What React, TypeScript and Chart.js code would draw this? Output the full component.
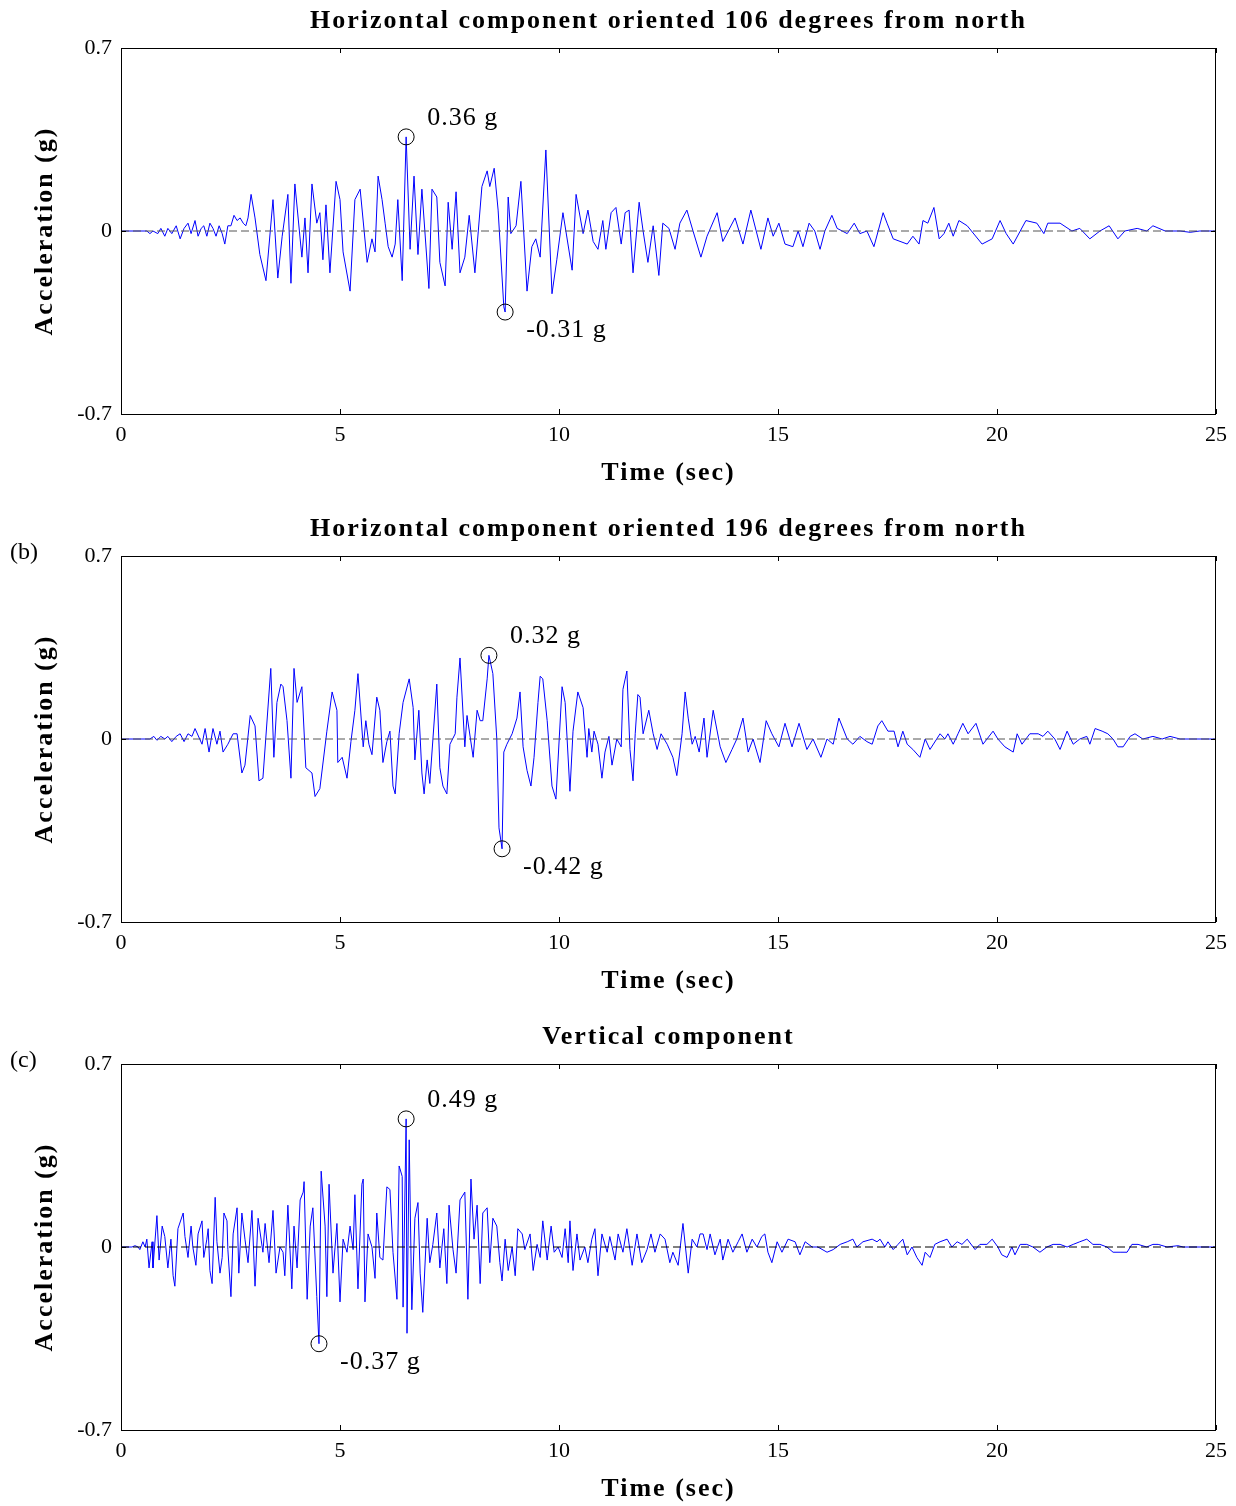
import React, { useEffect, useRef } from 'react';
import { Chart, registerables } from 'chart.js';

Chart.register(...registerables);

// ---------- axis / text data ----------
const X_MIN = 0;
const X_MAX = 25;
const X_STEP = 5;
const Y_TICKS = [-0.7, 0, 0.7];
const Y_TICK_LABELS = ['-0.7', '0', '0.7'];
const TITLES = [
  'Horizontal component oriented 106 degrees from north',
  'Horizontal component oriented 196 degrees from north',
  'Vertical component',
];
const TAGS = ['', '(b)', '(c)'];
const X_LABEL = 'Time (sec)';
const Y_LABEL = 'Acceleration (g)';

// ---------- series: [time (s), acceleration (g)] ----------
const h106: number[][] = [
  [0, 0], [0.59, 0], [0.66, -0.01], [0.73, 0], [0.84, -0.01], [0.91, 0.01], [1.0, -0.02], [1.07, 0.01], [1.16, -0.01], [1.26, 0.02],
  [1.35, -0.03], [1.44, 0.01], [1.53, 0.03], [1.6, -0.01], [1.69, 0.04], [1.76, -0.02], [1.83, 0.01], [1.89, 0.02], [1.96, -0.02], [2.03, 0.03],
  [2.1, 0.01], [2.17, -0.02], [2.24, 0.02], [2.31, -0.01], [2.37, -0.05], [2.44, 0.02], [2.51, 0.02], [2.58, 0.06], [2.65, 0.04], [2.72, 0.05],
  [2.79, 0.03], [2.85, 0.02], [2.9, 0.05], [2.97, 0.14], [3.06, 0.05], [3.17, -0.09], [3.31, -0.19], [3.47, 0.12], [3.58, -0.18], [3.68, -0.02],
  [3.81, 0.14], [3.88, -0.2], [3.97, 0.18], [4.13, -0.1], [4.2, 0.05], [4.27, -0.16], [4.36, 0.18], [4.47, 0.03], [4.54, 0.07], [4.61, -0.11],
  [4.68, 0.1], [4.77, -0.16], [4.91, 0.19], [5.0, 0.12], [5.07, -0.08], [5.23, -0.23], [5.34, 0.12], [5.46, 0.16], [5.62, -0.12], [5.73, -0.03],
  [5.8, -0.08], [5.87, 0.21], [5.96, 0.12], [6.03, 0.03], [6.1, -0.06], [6.19, -0.1], [6.26, -0.05], [6.32, 0.12], [6.42, -0.19], [6.51, 0.36],
  [6.6, -0.07], [6.69, 0.21], [6.78, -0.09], [6.87, 0.16], [7.03, -0.22], [7.1, 0.16], [7.21, 0.13], [7.28, -0.12], [7.4, -0.21], [7.47, 0.11],
  [7.56, -0.07], [7.65, 0.15], [7.74, -0.16], [7.85, -0.1], [7.95, 0.06], [8.08, -0.16], [8.24, 0.17], [8.36, 0.23], [8.42, 0.17], [8.52, 0.24],
  [8.61, 0.08], [8.74, -0.29], [8.77, -0.31], [8.84, 0.13], [8.9, -0.01], [9.02, 0.02], [9.13, 0.19], [9.27, -0.23], [9.38, -0.06], [9.47, -0.03],
  [9.57, -0.1], [9.7, 0.31], [9.84, -0.24], [9.95, -0.11], [10.09, 0.07], [10.3, -0.15], [10.39, 0.14], [10.55, -0.01], [10.66, 0.08], [10.78, -0.04],
  [10.89, -0.07], [11.0, 0.04], [11.07, -0.07], [11.19, 0.07], [11.3, 0.09], [11.42, -0.05], [11.51, 0.07], [11.6, 0.08], [11.69, -0.16], [11.83, 0.11],
  [11.92, 0.0], [12.03, -0.12], [12.15, 0.02], [12.28, -0.17], [12.37, 0.03], [12.51, 0.01], [12.65, -0.07], [12.76, 0.03], [12.92, 0.08], [13.06, 0.0],
  [13.24, -0.1], [13.38, -0.02], [13.61, 0.07], [13.74, -0.04], [14.02, 0.05], [14.2, -0.05], [14.38, 0.08], [14.61, -0.07], [14.77, 0.05], [14.89, -0.02],
  [15.02, 0.03], [15.16, -0.05], [15.34, -0.06], [15.46, 0.0], [15.57, -0.06], [15.71, 0.03], [15.84, 0.0], [15.96, -0.07], [16.07, 0.0], [16.23, 0.06],
  [16.35, 0.01], [16.58, -0.01], [16.74, 0.03], [16.87, -0.01], [17.03, 0.0], [17.19, -0.06], [17.4, 0.07], [17.49, 0.03], [17.63, -0.03], [17.95, -0.05],
  [18.08, -0.02], [18.22, -0.05], [18.31, 0.04], [18.42, 0.03], [18.56, 0.09], [18.68, -0.03], [18.79, -0.01], [18.9, 0.03], [19.0, -0.02], [19.13, 0.04],
  [19.32, 0.02], [19.66, -0.05], [19.89, -0.03], [20.07, 0.04], [20.21, -0.01], [20.37, -0.05], [20.66, 0.04], [20.91, 0.03], [21.07, -0.01], [21.16, 0.03],
  [21.44, 0.03], [21.71, 0.0], [21.89, 0.01], [22.12, -0.03], [22.35, 0.0], [22.56, 0.02], [22.76, -0.03], [22.92, 0.0], [23.2, 0.01], [23.42, 0.0],
  [23.56, 0.02], [23.84, 0.0], [24.18, 0.0], [24.41, -0.005], [24.63, 0.0], [25.0, 0.0],
];

const h196: number[][] = [
  [0, 0], [0.66, 0], [0.75, 0.01], [0.82, -0.005], [0.91, 0.01], [1.0, 0], [1.07, 0.01], [1.16, -0.01], [1.26, 0.01], [1.35, 0.02],
  [1.44, -0.01], [1.53, 0.02], [1.62, 0.01], [1.69, 0.04], [1.85, -0.02], [1.92, 0.04], [2.01, -0.05], [2.1, 0.04], [2.19, -0.02], [2.26, 0.03],
  [2.33, -0.05], [2.44, -0.02], [2.56, 0.02], [2.65, 0.02], [2.76, -0.13], [2.83, -0.1], [2.95, 0.09], [3.06, 0.05], [3.15, -0.16], [3.24, -0.15],
  [3.36, 0.13], [3.42, 0.27], [3.49, -0.07], [3.56, 0.14], [3.65, 0.21], [3.7, 0.2], [3.79, 0.07], [3.88, -0.15], [3.95, 0.27], [4.02, 0.14],
  [4.13, 0.2], [4.22, -0.11], [4.36, -0.13], [4.43, -0.22], [4.54, -0.19], [4.7, 0.03], [4.82, 0.18], [4.93, 0.11], [4.95, -0.09], [5.05, -0.07],
  [5.16, -0.15], [5.25, -0.01], [5.34, 0.11], [5.41, 0.25], [5.53, -0.03], [5.59, 0.07], [5.66, -0.02], [5.73, -0.06], [5.84, 0.16], [5.91, 0.11],
  [5.98, -0.09], [6.07, -0.01], [6.14, 0.03], [6.21, -0.18], [6.26, -0.21], [6.35, 0.02], [6.44, 0.14], [6.58, 0.23], [6.67, 0.12], [6.71, -0.08],
  [6.8, 0.11], [6.87, -0.13], [6.92, -0.21], [6.99, -0.08], [7.05, -0.17], [7.21, 0.21], [7.28, -0.11], [7.35, -0.18], [7.44, -0.21], [7.51, -0.02],
  [7.63, 0.02], [7.67, 0.16], [7.74, 0.31], [7.85, -0.03], [7.9, 0.09], [8.04, -0.07], [8.13, 0.11], [8.2, 0.07], [8.26, 0.07], [8.36, 0.23],
  [8.4, 0.32], [8.49, 0.25], [8.58, 0.0], [8.63, -0.34], [8.7, -0.42], [8.74, -0.05], [8.81, -0.02], [8.93, 0.02], [9.04, 0.08], [9.11, 0.18],
  [9.18, -0.03], [9.27, -0.12], [9.36, -0.18], [9.43, -0.07], [9.52, 0.14], [9.57, 0.24], [9.63, 0.23], [9.73, 0.07], [9.84, -0.18], [9.93, -0.23],
  [10.07, 0.2], [10.14, 0.14], [10.25, -0.2], [10.32, 0.03], [10.43, 0.18], [10.55, 0.12], [10.64, -0.07], [10.68, 0.04], [10.75, -0.05], [10.8, 0.03],
  [10.89, -0.02], [10.98, -0.15], [11.05, -0.05], [11.14, 0.01], [11.21, -0.1], [11.32, 0.0], [11.42, -0.03], [11.46, 0.19], [11.55, 0.26], [11.62, -0.04],
  [11.69, -0.16], [11.74, 0.02], [11.8, 0.17], [11.85, 0.16], [11.92, 0.02], [12.05, 0.11], [12.15, 0.02], [12.24, -0.04], [12.33, 0.02], [12.47, -0.02],
  [12.6, -0.07], [12.69, -0.14], [12.81, 0.02], [12.88, 0.18], [12.95, 0.08], [13.04, -0.02], [13.11, 0.01], [13.2, -0.05], [13.31, 0.08], [13.38, -0.07],
  [13.52, 0.11], [13.68, -0.03], [13.81, -0.09], [13.95, -0.04], [14.06, 0.0], [14.2, 0.08], [14.32, -0.05], [14.43, 0.0], [14.59, -0.09], [14.73, 0.07],
  [14.86, 0.02], [15.02, -0.03], [15.16, 0.06], [15.32, -0.03], [15.48, 0.06], [15.66, -0.04], [15.8, 0.0], [15.98, -0.07], [16.12, 0.0], [16.26, -0.02],
  [16.39, 0.08], [16.58, 0.0], [16.71, -0.02], [16.87, 0.01], [17.03, -0.01], [17.15, -0.02], [17.28, 0.05], [17.37, 0.07], [17.51, 0.03], [17.65, 0.03],
  [17.74, -0.03], [17.85, 0.03], [17.95, -0.02], [18.08, -0.04], [18.24, -0.07], [18.36, 0.0], [18.47, -0.04], [18.7, 0.02], [18.81, 0.0], [18.88, 0.02],
  [19.0, -0.02], [19.11, 0.02], [19.22, 0.06], [19.34, 0.02], [19.52, 0.06], [19.68, -0.02], [19.91, 0.03], [20.02, 0.0], [20.18, -0.03], [20.37, -0.05],
  [20.46, 0.02], [20.57, -0.02], [20.75, 0.02], [20.94, 0.02], [21.05, 0.01], [21.16, 0.03], [21.32, 0.0], [21.44, -0.04], [21.6, 0.03], [21.74, -0.02],
  [21.89, 0.0], [22.05, 0.01], [22.12, -0.02], [22.24, 0.04], [22.4, 0.03], [22.53, 0.02], [22.65, 0.0], [22.76, -0.03], [22.88, -0.03], [23.04, 0.01],
  [23.15, 0.02], [23.33, 0.0], [23.56, 0.01], [23.77, 0.0], [23.95, 0.01], [24.18, 0.0], [25.0, 0.0],
];

const vert: number[][] = [
  [0, 0], [0.25, 0], [0.32, 0.005], [0.39, 0], [0.43, -0.01], [0.5, 0.02], [0.55, 0], [0.59, 0.03], [0.64, -0.08], [0.71, 0.02],
  [0.73, -0.08], [0.82, 0.12], [0.87, -0.05], [0.94, 0.08], [1.0, 0.04], [1.07, -0.08], [1.14, 0.03], [1.19, -0.11], [1.23, -0.15], [1.3, 0.07],
  [1.42, 0.13], [1.46, 0.04], [1.53, -0.04], [1.6, 0.08], [1.64, 0], [1.71, -0.07], [1.76, 0.05], [1.85, 0.1], [1.89, -0.04], [1.96, 0.03],
  [1.99, 0.07], [2.03, -0.09], [2.08, -0.14], [2.15, 0.19], [2.19, 0.02], [2.26, -0.1], [2.31, -0.04], [2.35, 0.13], [2.42, 0.1], [2.44, -0.01],
  [2.51, -0.19], [2.56, 0.05], [2.65, 0.15], [2.69, -0.1], [2.76, 0.13], [2.83, 0.03], [2.9, -0.06], [2.99, 0.14], [3.06, -0.15], [3.13, 0.11],
  [3.24, -0.02], [3.29, 0.09], [3.38, -0.06], [3.47, 0.14], [3.54, -0.1], [3.63, 0], [3.7, -0.02], [3.74, -0.11], [3.81, 0.16], [3.9, -0.16],
  [3.95, 0.08], [4.02, -0.08], [4.09, 0.18], [4.16, 0.21], [4.18, 0.25], [4.25, -0.2], [4.32, 0.08], [4.38, 0.15], [4.47, -0.19], [4.52, -0.37],
  [4.57, 0.29], [4.66, 0.08], [4.7, -0.19], [4.75, 0.24], [4.84, -0.1], [4.93, 0.09], [5.0, -0.21], [5.07, 0.03], [5.16, -0.02], [5.23, 0.08],
  [5.3, -0.01], [5.34, 0.2], [5.41, -0.16], [5.5, 0.24], [5.53, 0.26], [5.57, -0.21], [5.64, 0.05], [5.73, 0], [5.8, -0.12], [5.84, 0.13],
  [5.91, -0.04], [5.98, -0.05], [6.07, 0.23], [6.14, 0.22], [6.21, -0.02], [6.3, -0.2], [6.35, 0.31], [6.42, 0.27], [6.44, -0.23], [6.51, 0.49],
  [6.53, -0.33], [6.58, 0.41], [6.64, -0.24], [6.71, 0.11], [6.78, 0.17], [6.83, -0.1], [6.89, -0.25], [6.99, 0.11], [7.05, -0.06], [7.12, 0.01],
  [7.21, 0.13], [7.28, -0.08], [7.37, 0.07], [7.44, -0.14], [7.49, 0.16], [7.58, -0.01], [7.65, -0.1], [7.74, 0.18], [7.85, 0.21], [7.92, -0.2],
  [7.99, 0.26], [8.06, 0.03], [8.13, 0.16], [8.2, -0.14], [8.26, 0.13], [8.36, 0.15], [8.42, -0.06], [8.49, 0.11], [8.58, 0.08], [8.65, -0.06],
  [8.7, -0.13], [8.77, 0.03], [8.84, -0.09], [8.93, 0], [9.0, -0.11], [9.06, 0.07], [9.16, 0.05], [9.22, -0.01], [9.34, 0.05], [9.41, -0.09],
  [9.5, 0.01], [9.57, -0.04], [9.63, 0.1], [9.73, -0.05], [9.82, 0.08], [9.89, -0.02], [9.98, 0], [10.07, -0.04], [10.14, 0.07], [10.21, -0.06],
  [10.25, 0.1], [10.32, -0.09], [10.41, 0.05], [10.48, -0.05], [10.59, 0], [10.66, -0.06], [10.75, 0.03], [10.82, 0.07], [10.89, -0.11], [10.98, 0.05],
  [11.1, -0.02], [11.16, 0.04], [11.28, -0.05], [11.35, 0.05], [11.46, -0.02], [11.55, 0.07], [11.67, -0.07], [11.78, 0.05], [11.89, -0.06], [12.01, -0.01],
  [12.1, 0.05], [12.19, -0.02], [12.31, 0.05], [12.42, 0.03], [12.53, -0.06], [12.6, -0.02], [12.72, -0.07], [12.83, 0.09], [12.95, -0.1], [13.04, 0.03],
  [13.15, 0], [13.22, 0.05], [13.29, 0.05], [13.38, -0.01], [13.45, 0.05], [13.56, -0.03], [13.68, 0.03], [13.74, -0.05], [13.86, 0.03], [13.97, -0.02],
  [14.09, 0.02], [14.18, 0.05], [14.29, -0.02], [14.41, 0.03], [14.52, 0], [14.63, 0.04], [14.7, 0.05], [14.77, -0.02], [14.86, -0.06], [14.98, 0.02],
  [15.09, -0.02], [15.23, 0.03], [15.39, 0.02], [15.5, -0.03], [15.62, 0.02], [15.78, 0], [15.91, 0], [16.12, -0.02], [16.26, -0.01], [16.42, 0.01],
  [16.58, 0.02], [16.71, 0.03], [16.8, 0], [16.94, 0.02], [17.15, 0.03], [17.26, 0.02], [17.33, 0.03], [17.44, 0], [17.51, 0.02], [17.63, -0.01],
  [17.74, 0.01], [17.85, 0.03], [17.95, -0.03], [18.06, 0], [18.17, -0.04], [18.29, -0.07], [18.36, -0.02], [18.47, -0.04], [18.58, 0.01], [18.7, 0.02],
  [18.86, 0.03], [18.97, 0], [19.09, 0.02], [19.2, 0.01], [19.32, 0.03], [19.5, -0.01], [19.61, 0.01], [19.77, 0.01], [19.89, 0.03], [20.02, 0],
  [20.11, -0.03], [20.23, -0.04], [20.34, 0], [20.41, -0.03], [20.53, 0.01], [20.68, 0.01], [20.82, 0], [20.98, -0.02], [21.14, 0], [21.28, 0.01],
  [21.44, 0.01], [21.6, 0], [21.74, 0.01], [21.89, 0.02], [22.05, 0.03], [22.19, 0.01], [22.35, 0.01], [22.51, 0], [22.65, -0.02], [22.81, -0.02],
  [22.97, -0.02], [23.08, 0.01], [23.22, 0.01], [23.42, 0], [23.56, 0.01], [23.68, 0.01], [23.88, 0], [24.13, 0.005], [24.25, 0], [25.0, 0],
];

// ---------- marked extremes ----------
const peakTimes1 = [6.51, 8.77];
const peakValues1 = [0.36, -0.31];
const peakLabels1 = ['0.36 g', '-0.31 g'];
const peakTimes2 = [8.4, 8.7];
const peakValues2 = [0.32, -0.42];
const peakLabels2 = ['0.32 g', '-0.42 g'];
const peakTimes3 = [6.51, 4.52];
const peakValues3 = [0.49, -0.37];
const peakLabels3 = ['0.49 g', '-0.37 g'];

const SERIES = [h106, h196, vert];
const PEAK_T = [peakTimes1, peakTimes2, peakTimes3];
const PEAK_V = [peakValues1, peakValues2, peakValues3];
const PEAK_L = [peakLabels1, peakLabels2, peakLabels3];

// ---------- layout ----------
const W = 1236;
const CH = 490;
const PANEL_TOPS = [0, 508, 1016];
const SERIF = '"Liberation Serif", "Times New Roman", serif';

const decoPlugin = {
  id: 'deco',
  afterDraw(chart: any, _args: any, opts: any) {
    const { ctx, chartArea: a, scales } = chart;
    const xs = scales.x;
    const ys = scales.y;
    ctx.save();
    // frame
    ctx.strokeStyle = '#000';
    ctx.lineWidth = 1;
    ctx.strokeRect(Math.round(a.left) + 0.5, Math.round(a.top) + 0.5, Math.round(a.right - a.left) - 1, Math.round(a.bottom - a.top));
    // inward tick marks
    ctx.beginPath();
    for (let v = X_MIN; v <= X_MAX; v += X_STEP) {
      const px = Math.round(xs.getPixelForValue(v)) + 0.5;
      ctx.moveTo(px, a.bottom); ctx.lineTo(px, a.bottom - 5);
      ctx.moveTo(px, a.top); ctx.lineTo(px, a.top + 5);
    }
    for (const v of Y_TICKS) {
      const py = Math.round(ys.getPixelForValue(v)) + 0.5;
      ctx.moveTo(a.left, py); ctx.lineTo(a.left + 5, py);
      ctx.moveTo(a.right, py); ctx.lineTo(a.right - 5, py);
    }
    ctx.stroke();

    ctx.fillStyle = '#000';
    // title
    ctx.font = `bold 26px ${SERIF}`;
    (ctx as any).letterSpacing = '2px';
    ctx.textAlign = 'center';
    ctx.textBaseline = 'middle';
    ctx.fillText(opts.title, (a.left + a.right) / 2, a.top - 27);
    // x label
    ctx.fillText(X_LABEL, (a.left + a.right) / 2, a.bottom + 59);
    // y label
    ctx.save();
    ctx.translate(a.left - 76, (a.top + a.bottom) / 2);
    ctx.rotate(-Math.PI / 2);
    ctx.fillText(Y_LABEL, 0, 0);
    ctx.restore();
    // tag
    if (opts.tag) {
      ctx.font = `24px ${SERIF}`;
      (ctx as any).letterSpacing = '0px';
      ctx.textAlign = 'left';
      ctx.fillText(opts.tag, 10, a.top - 3);
    }
    // peak labels
    ctx.font = `26px ${SERIF}`;
    (ctx as any).letterSpacing = '1px';
    ctx.textAlign = 'left';
    const pt: number[] = opts.peakT;
    const pv: number[] = opts.peakV;
    const pl: string[] = opts.peakL;
    pt.forEach((t, i) => {
      const px = xs.getPixelForValue(t) + 21;
      const py = ys.getPixelForValue(pv[i]) + (pv[i] >= 0 ? -19 : 18);
      ctx.fillText(pl[i], px, py);
    });
    ctx.restore();
  },
};

function Panel({ idx }: { idx: number }) {
  const ref = useRef<HTMLCanvasElement>(null);
  useEffect(() => {
    const data = SERIES[idx];
    const zeroColor = idx === 2 ? '#000' : '#555';
    const chart = new Chart(ref.current as HTMLCanvasElement, {
      type: 'line',
      data: {
        datasets: [
          {
            label: 'extremes',
            data: PEAK_T[idx].map((t, i) => ({ x: t, y: PEAK_V[idx][i] })),
            showLine: false,
            pointRadius: 8,
            pointHoverRadius: 8,
            pointStyle: 'circle',
            pointBackgroundColor: 'rgba(0,0,0,0)',
            pointBorderColor: '#000',
            pointBorderWidth: 1,
          } as any,
          {
            label: 'zero',
            data: [{ x: X_MIN, y: 0 }, { x: X_MAX, y: 0 }],
            borderColor: zeroColor,
            borderWidth: 1,
            borderDash: [8, 4],
            pointRadius: 0,
          },
          {
            label: 'acc',
            data: data.map((p) => ({ x: p[0], y: p[1] })),
            borderColor: 'rgb(0,0,255)',
            borderWidth: 1,
            pointRadius: 0,
            tension: 0,
            fill: false,
          },
        ],
      },
      options: {
        animation: false,
        responsive: false,
        parsing: true as any,
        layout: { padding: { top: 48, right: 20, left: 0, bottom: 0 } },
        plugins: {
          legend: { display: false },
          tooltip: { enabled: false },
          deco: { title: TITLES[idx], tag: TAGS[idx], peakT: PEAK_T[idx], peakV: PEAK_V[idx], peakL: PEAK_L[idx] },
        } as any,
        scales: {
          x: {
            type: 'linear',
            min: X_MIN,
            max: X_MAX,
            grid: { display: false, drawTicks: false },
            border: { display: false },
            ticks: {
              stepSize: X_STEP,
              color: '#000',
              font: { family: SERIF, size: 22 },
              padding: 8,
              maxRotation: 0,
            },
            afterFit: (s: any) => { s.height = CH - 48 - 366; },
          },
          y: {
            type: 'linear',
            min: -0.7,
            max: 0.7,
            grid: { display: false, drawTicks: false },
            border: { display: false },
            afterBuildTicks: (s: any) => { s.ticks = Y_TICKS.map((v) => ({ value: v })); },
            ticks: {
              color: '#000',
              font: { family: SERIF, size: 22 },
              padding: 9,
              callback: (v: any) => {
                const k = Y_TICKS.findIndex((t) => Math.abs(t - Number(v)) < 1e-9);
                return k >= 0 ? Y_TICK_LABELS[k] : '';
              },
            },
            afterFit: (s: any) => { s.width = 121; },
          },
        },
      },
      plugins: [decoPlugin],
    });
    return () => chart.destroy();
  }, [idx]);
  return (
    <canvas
      ref={ref}
      width={W}
      height={CH}
      style={{ position: 'absolute', left: 0, top: PANEL_TOPS[idx], width: W, height: CH, display: 'block' }}
    />
  );
}

export default function App() {
  return (
    <div style={{ position: 'absolute', left: 0, top: 0, width: W, height: 1506, background: '#fff', overflow: 'hidden' }}>
      <Panel idx={0} />
      <Panel idx={1} />
      <Panel idx={2} />
    </div>
  );
}
